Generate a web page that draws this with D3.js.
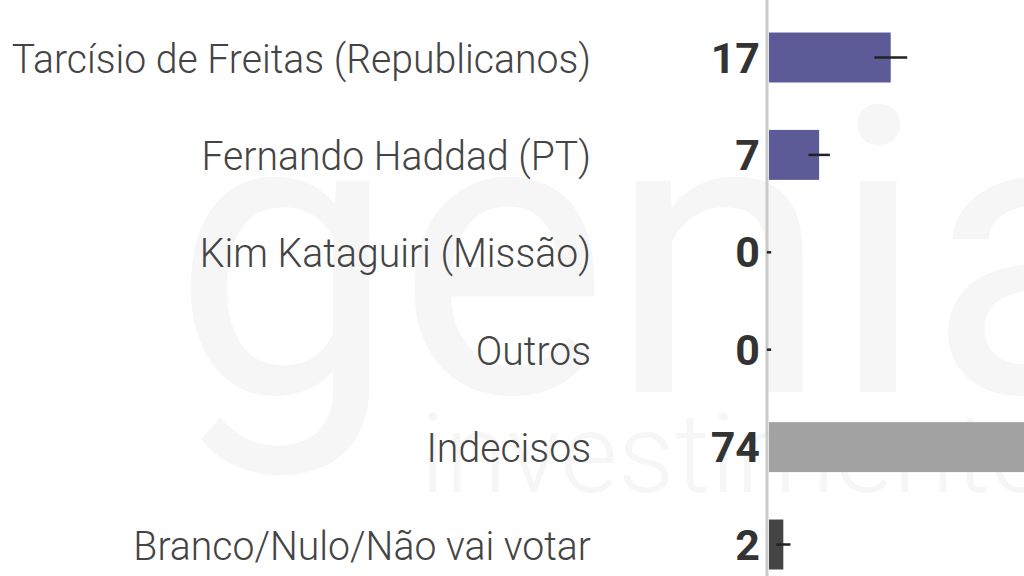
<!DOCTYPE html>
<html>
<head>
<meta charset="utf-8">
<script src="https://cdn.jsdelivr.net/npm/d3@7"></script>
<style>
  body { margin: 0; background: #fff; }
  svg { display: block; }
</style>
</head>
<body>
<div id="chart"></div>
<script>
// size of the svg
var svgWidth = 1024;
var svgHeight = 576;

// data
var candidates = ["Tarcísio de Freitas (Republicanos)", "Fernando Haddad (PT)", "Kim Kataguiri (Missão)",
  "Outros", "Indecisos", "Branco/Nulo/Não vai votar"];
var votes = [17, 7, 0, 0, 74, 2];
var errors = [2.3, 1.5, 0.3, 0.3, 0, 1.0];
var groups = ["cand", "cand", "cand", "cand", "undecided", "blank"];

var colors = { cand: "#5d5b97", undecided: "#a2a2a2", blank: "#444444" };

var rows = candidates.map((c, i) => ({ name: c, value: votes[i], err: errors[i], group: groups[i] }));

var svg = d3.select("#chart")
  .append("svg")
  .attr("width", svgWidth)
  .attr("height", svgHeight);

// faint watermark in the back
var wm = svg.append("g").attr("fill", "#f6f6f6").style("font-family", "Roboto");
wm.append("text")
  .attr("x", 172).attr("y", 392)
  .style("font-size", "400px")
  .text("genial");
wm.append("text")
  .attr("x", 420).attr("y", 492)
  .style("font-size", "112px")
  .style("font-weight", 300)
  .text("investimentos");

// scales
var xScale = d3.scaleLinear()
  .domain([0, 100])
  .range([769, 769 + 716]);

var yScale = d3.scaleBand()
  .domain(candidates)
  .range([8.8, 593.2])
  .paddingInner(0.487)
  .paddingOuter(0.2435);

// axis line at zero
svg.append("line")
  .attr("x1", xScale(0) - 2).attr("x2", xScale(0) - 2)
  .attr("y1", 0).attr("y2", svgHeight)
  .attr("stroke", "#cacaca")
  .attr("stroke-width", 3);

// bars
svg.selectAll("rect.bar")
  .data(rows)
  .enter()
  .append("rect")
  .attr("class", "bar")
  .attr("x", xScale(0))
  .attr("y", d => yScale(d.name))
  .attr("width", d => xScale(d.value) - xScale(0))
  .attr("height", yScale.bandwidth())
  .attr("fill", d => colors[d.group])
  .attr("stroke", d => d.value === 0 ? "#9c9bc0" : "none")
  .attr("stroke-width", 1);

// error bars
svg.selectAll("line.err")
  .data(rows.filter(d => d.err > 0))
  .enter()
  .append("line")
  .attr("class", "err")
  .attr("x1", d => xScale(d.value - d.err))
  .attr("x2", d => xScale(d.value + d.err))
  .attr("y1", d => yScale(d.name) + yScale.bandwidth() / 2)
  .attr("y2", d => yScale(d.name) + yScale.bandwidth() / 2)
  .attr("stroke", "#222")
  .attr("stroke-width", 2.5);

// category labels (slightly narrowed, like the original)
svg.selectAll("text.label")
  .data(rows)
  .enter()
  .append("text")
  .attr("class", "label")
  .attr("transform", d => `translate(591, ${yScale(d.name) + yScale.bandwidth() / 2 + 15}) scale(0.955, 1)`)
  .attr("text-anchor", "end")
  .attr("fill", "#444")
  .style("font-family", "Roboto")
  .style("font-weight", 300)
  .style("font-size", "41px")
  .text(d => d.name);

// value labels
svg.selectAll("text.value")
  .data(rows)
  .enter()
  .append("text")
  .attr("class", "value")
  .attr("x", 760)
  .attr("y", d => yScale(d.name) + yScale.bandwidth() / 2 + 15)
  .attr("text-anchor", "end")
  .attr("fill", "#333")
  .style("font-family", "Roboto")
  .style("font-weight", 700)
  .style("font-size", "43px")
  .text(d => d.value);
</script>
</body>
</html>
